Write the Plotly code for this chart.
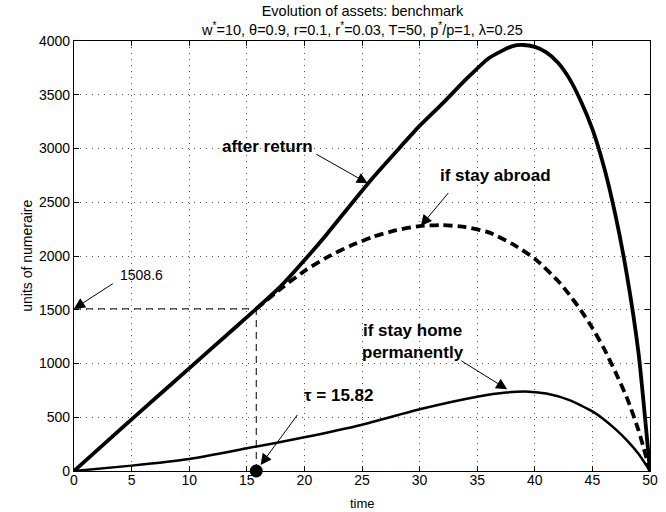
import plotly.graph_objects as go

# ---------------- data ----------------
TAU = 15.82
A_TAU = 1508.6

t_return = [0, 4, 8, 12, TAU, 18, 20, 22, 24, 26, 28, 30, 32, 34, 36, 38, 39, 40,
            41, 42, 43, 44, 45, 46, 47, 48, 49, 50]
a_return = [0, 385, 765, 1145, A_TAU, 1725, 1960, 2210, 2475, 2735, 2975, 3210,
            3420, 3640, 3840, 3950, 3963, 3945, 3895, 3800, 3650, 3440, 3180,
            2830, 2380, 1820, 1100, 0]

t_abroad = [TAU, 18, 20, 22, 24, 26, 28, 30, 32, 34, 36, 38, 40, 42, 43, 44, 45,
            46, 47, 48, 49, 50]
a_abroad = [A_TAU, 1700, 1860, 1990, 2095, 2180, 2240, 2278, 2288, 2268, 2220,
            2115, 1975, 1770, 1640, 1495, 1330, 1140, 920, 680, 380, 0]

t_home = [0, 5, 10, 15, 20, 25, 30, 35, 37.5, 39.5, 41, 43, 45, 46, 47, 48, 49, 50]
a_home = [0, 50, 112, 211, 313, 430, 574, 691, 730, 738, 720, 660, 555, 480,
          390, 285, 160, 0]

x_ticks = [0, 5, 10, 15, 20, 25, 30, 35, 40, 45, 50]
y_ticks = [0, 500, 1000, 1500, 2000, 2500, 3000, 3500, 4000]

title1 = "Evolution of assets: benchmark"
title2 = ("w<sup>*</sup>=10, θ=0.9, r=0.1, r<sup>*</sup>=0.03, T=50, "
          "p<sup>*</sup>/p=1, λ=0.25")

FONT = "Liberation Sans, Arial, Helvetica, sans-serif"

# plot-area geometry in pixels
L, R, T, B = 74, 8, 41, 41
W, H = 666, 512
PH = H - T - B
PW = W - L - R


def py(p):
    """pixel y (from top) -> paper y"""
    return (H - B - p) / PH


def px(p):
    return (p - L) / PW


fig = go.Figure()

fig.add_trace(go.Scatter(x=t_return, y=a_return, mode="lines",
                         line=dict(color="black", width=3.8, shape="spline",
                                   smoothing=0.6),
                         hoverinfo="skip", showlegend=False))
fig.add_trace(go.Scatter(x=t_abroad, y=a_abroad, mode="lines",
                         line=dict(color="black", width=3.8, dash="9px,5px",
                                   shape="spline", smoothing=0.6),
                         hoverinfo="skip", showlegend=False))
fig.add_trace(go.Scatter(x=t_home, y=a_home, mode="lines",
                         line=dict(color="black", width=2.5, shape="spline",
                                   smoothing=0.6),
                         hoverinfo="skip", showlegend=False))

# tau guide lines
fig.add_trace(go.Scatter(x=[TAU, TAU], y=[0, A_TAU], mode="lines",
                         line=dict(color="black", width=1, dash="7px,5px"),
                         hoverinfo="skip", showlegend=False))
fig.add_trace(go.Scatter(x=[0, TAU], y=[A_TAU, A_TAU], mode="lines",
                         line=dict(color="black", width=1, dash="7px,5px"),
                         hoverinfo="skip", showlegend=False))
fig.add_trace(go.Scatter(x=[TAU], y=[0], mode="markers",
                         marker=dict(color="black", size=13),
                         cliponaxis=False, hoverinfo="skip", showlegend=False))

annotations = []


def arrow(tip, tail):
    annotations.append(dict(x=tip[0], y=tip[1], ax=tail[0], ay=tail[1],
                            xref="x", yref="y", axref="x", ayref="y",
                            text="", showarrow=True, arrowhead=2,
                            arrowsize=2.2, arrowwidth=1, arrowcolor="black"))


def label(x, y, text, bold=True, size=17):
    annotations.append(dict(x=x, y=y, xref="x", yref="y", text=text,
                            showarrow=False,
                            font=dict(family=FONT, size=size, color="black",
                                      weight="bold" if bold else "normal")))


label(16.8, 3023, "after return")
arrow((25.5, 2676), (20.9, 2955))

label(36.6, 2750, "if stay abroad")
arrow((30.1, 2279), (32.6, 2600))

label(29.4, 1205, "if stay home<br>permanently")
arrow((37.6, 760), (33.5, 1033))

label(23.0, 700, "τ = 15.82")
arrow((16.2, 56), (19.5, 537))

annotations.append(dict(x=3.86, y=1823, xref="x", yref="y", text="1508.6",
                        xanchor="left", showarrow=False,
                        font=dict(family=FONT, size=14, color="black")))
arrow((0, A_TAU), (3.5, 1752))

# titles (one two-line block)
annotations.append(dict(x=0.5, y=py(1), xref="paper", yref="paper",
                        yanchor="top", text=title1 + "<br>" + title2,
                        showarrow=False,
                        font=dict(family=FONT, size=14.5, color="black")))
annotations.append(dict(x=0.5, y=py(512), xref="paper", yref="paper",
                        yanchor="bottom", borderpad=0, text="time",
                        showarrow=False,
                        font=dict(family=FONT, size=13, color="black")))
annotations.append(dict(x=px(16), y=0.5, xref="paper", yref="paper",
                        text="units of numeraire", textangle=-90,
                        showarrow=False,
                        font=dict(family=FONT, size=14, color="black")))

axis_common = dict(showline=True, linecolor="black", linewidth=1.3,
                   mirror="ticks", ticks="inside", ticklen=5, tickwidth=1,
                   tickcolor="black", showgrid=True, gridcolor="#555",
                   gridwidth=1, griddash="1px,5px", zeroline=False,
                   tickfont=dict(family=FONT, size=14, color="black"))

fig.update_layout(
    width=W, height=H,
    margin=dict(l=L, r=R, t=T, b=B),
    paper_bgcolor="white", plot_bgcolor="white",
    xaxis=dict(range=[0, 50], tickvals=x_ticks, ticklabelstandoff=-4,
               **axis_common),
    yaxis=dict(range=[0, 4000], tickvals=y_ticks, **axis_common),
    annotations=annotations,
    showlegend=False,
)

# remove the browser's default 8px page margin so the figure fills the window
fig.write_html("out.html",
               config={"displayModeBar": False},
               post_script="document.body.style.margin='0px';"
                           "document.body.style.overflow='hidden';")
